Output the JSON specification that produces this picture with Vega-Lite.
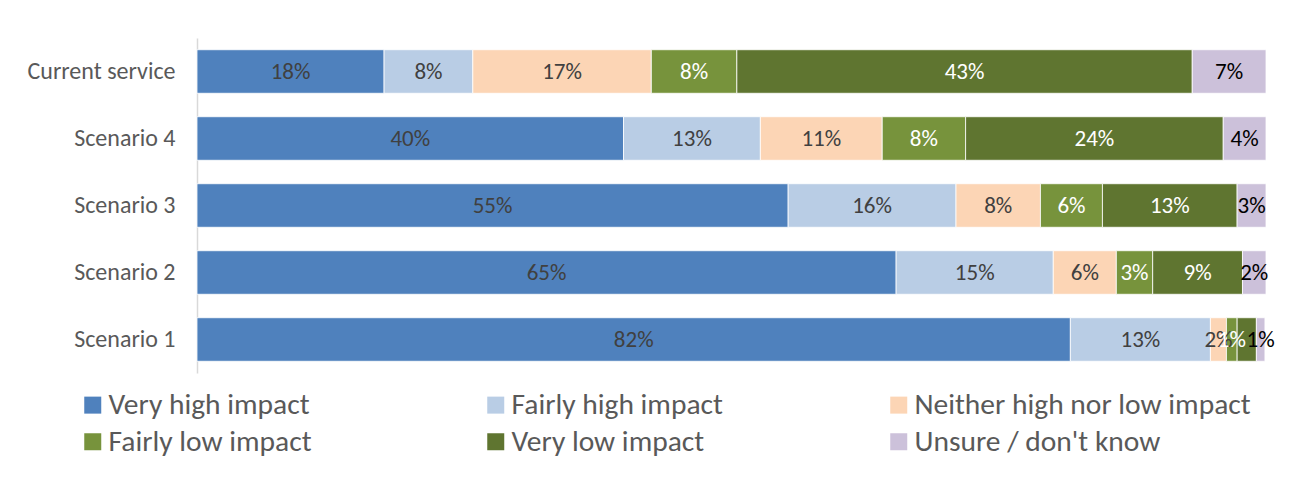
{
  "$schema": "https://vega.github.io/schema/vega-lite/v6.json",
  "width": 1069,
  "height": 335,
  "autosize": "none",
  "padding": {"left": 197, "top": 38, "right": 40, "bottom": 104},
  "background": "white",
  "config": {"font": "Carlito, Roboto, sans-serif", "view": {"stroke": null}},
  "data": {
    "values": [
      {"s": "Current service", "c": "Very high impact", "o": 1, "v": 17.5, "p": "18%"},
      {"s": "Current service", "c": "Fairly high impact", "o": 2, "v": 8.3, "p": "8%"},
      {"s": "Current service", "c": "Neither high nor low impact", "o": 3, "v": 16.7, "p": "17%"},
      {"s": "Current service", "c": "Fairly low impact", "o": 4, "v": 8.0, "p": "8%"},
      {"s": "Current service", "c": "Very low impact", "o": 5, "v": 42.6, "p": "43%"},
      {"s": "Current service", "c": "Unsure / don't know", "o": 6, "v": 6.9, "p": "7%"},
      {"s": "Scenario 4", "c": "Very high impact", "o": 1, "v": 39.9, "p": "40%"},
      {"s": "Scenario 4", "c": "Fairly high impact", "o": 2, "v": 12.8, "p": "13%"},
      {"s": "Scenario 4", "c": "Neither high nor low impact", "o": 3, "v": 11.4, "p": "11%"},
      {"s": "Scenario 4", "c": "Fairly low impact", "o": 4, "v": 7.8, "p": "8%"},
      {"s": "Scenario 4", "c": "Very low impact", "o": 5, "v": 24.1, "p": "24%"},
      {"s": "Scenario 4", "c": "Unsure / don't know", "o": 6, "v": 4.0, "p": "4%"},
      {"s": "Scenario 3", "c": "Very high impact", "o": 1, "v": 55.3, "p": "55%"},
      {"s": "Scenario 3", "c": "Fairly high impact", "o": 2, "v": 15.7, "p": "16%"},
      {"s": "Scenario 3", "c": "Neither high nor low impact", "o": 3, "v": 7.9, "p": "8%"},
      {"s": "Scenario 3", "c": "Fairly low impact", "o": 4, "v": 5.8, "p": "6%"},
      {"s": "Scenario 3", "c": "Very low impact", "o": 5, "v": 12.6, "p": "13%"},
      {"s": "Scenario 3", "c": "Unsure / don't know", "o": 6, "v": 2.7, "p": "3%"},
      {"s": "Scenario 2", "c": "Very high impact", "o": 1, "v": 65.4, "p": "65%"},
      {"s": "Scenario 2", "c": "Fairly high impact", "o": 2, "v": 14.7, "p": "15%"},
      {"s": "Scenario 2", "c": "Neither high nor low impact", "o": 3, "v": 5.9, "p": "6%"},
      {"s": "Scenario 2", "c": "Fairly low impact", "o": 4, "v": 3.4, "p": "3%"},
      {"s": "Scenario 2", "c": "Very low impact", "o": 5, "v": 8.4, "p": "9%"},
      {"s": "Scenario 2", "c": "Unsure / don't know", "o": 6, "v": 2.2, "p": "2%"},
      {"s": "Scenario 1", "c": "Very high impact", "o": 1, "v": 81.7, "p": "82%"},
      {"s": "Scenario 1", "c": "Fairly high impact", "o": 2, "v": 13.1, "p": "13%"},
      {"s": "Scenario 1", "c": "Neither high nor low impact", "o": 3, "v": 1.5, "p": "2%"},
      {"s": "Scenario 1", "c": "Fairly low impact", "o": 4, "v": 1.0, "p": "1%"},
      {"s": "Scenario 1", "c": "Very low impact", "o": 5, "v": 1.8, "p": ""},
      {"s": "Scenario 1", "c": "Unsure / don't know", "o": 6, "v": 0.8, "p": "1%"}
    ]
  },
  "transform": [
    {"stack": "v", "groupby": ["s"], "sort": [{"field": "o", "order": "ascending"}], "as": ["x0", "x1"]},
    {"calculate": "(datum.x0 + datum.x1) / 2", "as": "xm"}
  ],
  "encoding": {
    "y": {
      "field": "s",
      "type": "nominal",
      "sort": ["Current service", "Scenario 4", "Scenario 3", "Scenario 2", "Scenario 1"],
      "scale": {"paddingInner": 0.35, "paddingOuter": 0.175},
      "axis": {
        "title": null,
        "ticks": false,
        "domainColor": "#d9d9d9",
        "domainWidth": 1.5,
        "labelFontSize": 24,
        "labelColor": "#595959",
        "labelPadding": 22,
        "labelLimit": 300
      }
    }
  },
  "layer": [
    {
      "mark": {"type": "bar", "stroke": "white", "strokeWidth": 0.8},
      "encoding": {
        "x": {"field": "x0", "type": "quantitative", "scale": {"domain": [0, 100], "nice": false}, "axis": null},
        "x2": {"field": "x1"},
        "color": {
          "field": "c",
          "type": "nominal",
          "scale": {
            "domain": ["Very high impact", "Fairly high impact", "Neither high nor low impact", "Fairly low impact", "Very low impact", "Unsure / don't know"],
            "range": ["#4f81bd", "#b9cde5", "#fcd5b5", "#77933c", "#5f7530", "#ccc1da"]
          },
          "legend": {
            "title": null,
            "orient": "none",
            "legendX": -119,
            "legendY": 352,
            "direction": "horizontal",
            "columns": 3,
            "gridAlign": "all",
            "columnPadding": 36,
            "rowPadding": 6,
            "symbolType": "square",
            "symbolSize": 289,
            "symbolStrokeWidth": 0,
            "labelFontSize": 29.5,
            "labelColor": "#595959",
            "labelOffset": 1,
            "labelLimit": 500
          }
        }
      }
    },
    {
      "mark": {"type": "text", "fontSize": 23, "align": "center", "baseline": "middle"},
      "encoding": {
        "x": {"field": "xm", "type": "quantitative"},
        "text": {"field": "p"},
        "color": {
          "field": "c",
          "type": "nominal",
          "scale": {
            "domain": ["Very high impact", "Fairly high impact", "Neither high nor low impact", "Fairly low impact", "Very low impact", "Unsure / don't know"],
            "range": ["#404040", "#404040", "#404040", "#ffffff", "#ffffff", "#000000"]
          },
          "legend": null
        }
      }
    }
  ],
  "resolve": {"scale": {"color": "independent"}}
}
